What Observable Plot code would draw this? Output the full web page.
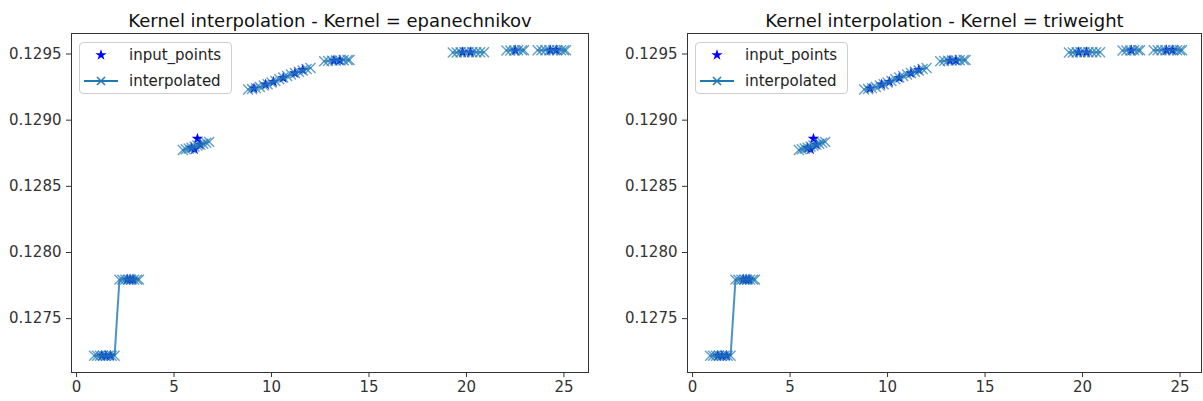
<!DOCTYPE html>
<html><head><meta charset="utf-8">
<script src="https://cdn.jsdelivr.net/npm/d3@7"></script>
<script src="https://cdn.jsdelivr.net/npm/@observablehq/plot@0.6"></script>
<style>
body{margin:0;background:#fff;font-family:"DejaVu Sans",sans-serif;}
#fig{position:relative;width:1203px;height:401px;overflow:hidden;background:#fff;}
.panel{position:absolute;top:0;}
.legend{position:absolute;border:1px solid #cfcfcf;border-radius:4px;background:rgba(255,255,255,0.85);width:151px;height:50px;}
.legend svg{display:block;}
</style></head><body><div id="fig"></div>
<script>
// ---- data ----
const kernels = ["epanechnikov", "triweight"];
const xTicks = [0, 5, 10, 15, 20, 25];
const yTicks = [0.1275, 0.1280, 0.1285, 0.1290, 0.1295];

// interpolated curve (NaN = break in the line)
const interpX = [
  0.9, 1.05, 1.2, 1.35, 1.5, 1.65, 1.8, 1.95,
  2.2, 2.35, 2.5, 2.65, 2.8, 2.95, 3.1, 3.2, NaN,
  5.45, 5.6, 5.75, 5.9, 6.05, 6.2, 6.35, 6.5, 6.65, 6.8, NaN,
  8.8, 9.0, 9.2, 9.4, 9.6, 9.8, 10.0, 10.2, 10.4, 10.6, 10.8, 11.0, 11.2, 11.4, 11.6, 11.8, 12.0, NaN,
  12.7, 12.9, 13.1, 13.3, 13.5, 13.7, 13.9, 14.0, NaN,
  19.3, 19.5, 19.7, 19.9, 20.1, 20.3, 20.5, 20.7, 20.9, NaN,
  22.05, 22.25, 22.45, 22.65, 22.85, 22.95, NaN,
  23.65, 23.85, 24.05, 24.25, 24.45, 24.65, 24.85, 25.0, 25.1
];
const interpY = [
  0.12722, 0.12722, 0.12722, 0.12722, 0.12722, 0.12722, 0.12722, 0.12722,
  0.127795, 0.127795, 0.127795, 0.127795, 0.127795, 0.127795, 0.127795, 0.127795, NaN,
  0.128775, 0.12878, 0.128786, 0.128792, 0.1288, 0.128808, 0.128815, 0.128822, 0.12883, 0.128836, NaN,
  0.129232, 0.129236, 0.129242, 0.12925, 0.129262, 0.129272, 0.129284, 0.129296, 0.12931, 0.129322, 0.129334, 0.129345, 0.129356, 0.129366, 0.129376, 0.129386, 0.129394, NaN,
  0.129446, 0.129448, 0.12945, 0.129451, 0.129452, 0.129453, 0.129454, 0.129455, NaN,
  0.129512, 0.129512, 0.129513, 0.129513, 0.129513, 0.129513, 0.129514, 0.129514, 0.129514, NaN,
  0.129527, 0.129527, 0.129527, 0.129528, 0.129528, 0.129528, NaN,
  0.129528, 0.129528, 0.129528, 0.129528, 0.129529, 0.129529, 0.129529, 0.129529, 0.129529
];

// input points (stars)
const inputX = [1.3, 1.5, 1.75, 2.6, 2.75, 2.9, 5.9, 6.05, 6.2, 6.35, 9.1, 9.7, 10.1, 10.6, 11.2, 11.6, 13.2, 13.5, 19.8, 20.2, 22.5, 24.3, 24.6];
const inputY = [0.12722, 0.12722, 0.12722, 0.127795, 0.127795, 0.127795, 0.12879, 0.12878, 0.12886, 0.128815, 0.12924, 0.12927, 0.12929, 0.12932, 0.129355, 0.12938, 0.12945, 0.129452, 0.129513, 0.129513, 0.129528, 0.129528, 0.129529];

// ---- build ----
const interp = interpX.map((x, i) => ({x, y: interpY[i]}));
const inputs = inputX.map((x, i) => ({x, y: inputY[i]}));
const blue = "#1f77b4";

const panels = [
  {left: 0, width: 600, marginRight: 12, xMax: 26.26},
  {left: 616, width: 587, marginRight: 2, xMax: 26.1}
];

const fig = document.getElementById("fig");

kernels.forEach((kernel, k) => {
  const p = panels[k];
  const chart = Plot.plot({
    width: p.width,
    height: 400,
    marginLeft: 71,
    marginRight: p.marginRight,
    marginTop: 33,
    marginBottom: 28,
    style: {fontFamily: "DejaVu Sans, sans-serif", fontSize: "15px", color: "#333", background: "white", overflow: "visible"},
    x: {domain: [-0.26, p.xMax], ticks: xTicks, tickSize: 5, tickPadding: 4, label: null},
    y: {domain: [0.127093, 0.129655], ticks: yTicks, tickFormat: d3.format(".4f"), tickSize: 5, tickPadding: 5, label: null},
    marks: [
      Plot.frame({stroke: "#333", strokeWidth: 1}),
      Plot.dot(inputs, {x: "x", y: "y", symbol: "star", fill: "blue", r: 3.6}),
      Plot.line(interp, {x: "x", y: "y", stroke: blue, strokeWidth: 2, strokeOpacity: 0.8}),
      Plot.dot(interp, {x: "x", y: "y", symbol: "times", stroke: blue, r: 4.6, strokeWidth: 1.4, strokeOpacity: 0.7}),
      Plot.text([`Kernel interpolation - Kernel = ${kernel}`], {frameAnchor: "top", dy: -7, lineAnchor: "bottom", fontSize: 18, fill: "#111"})
    ]
  });
  chart.classList.add("panel");
  chart.style.left = p.left + "px";
  fig.appendChild(chart);

  // legend
  const lg = document.createElement("div");
  lg.className = "legend";
  lg.style.left = (p.left + 71 + 8) + "px";
  lg.style.top = (33 + 9) + "px";
  const s = d3.create("svg").attr("width", 151).attr("height", 50);
  s.append("path").attr("d", d3.symbol(d3.symbolStar, 40)()).attr("transform", "translate(21,12)").attr("fill", "blue");
  s.append("line").attr("x1", 4).attr("x2", 38).attr("y1", 38).attr("y2", 38).attr("stroke", blue).attr("stroke-width", 2);
  s.append("path").attr("d", "M-4,-4L4,4M-4,4L4,-4").attr("transform", "translate(21,38)").attr("stroke", blue).attr("stroke-width", 1.5);
  s.append("text").attr("x", 49).attr("y", 12).attr("dy", "0.35em").attr("font-size", 15).attr("fill", "#222").text("input_points");
  s.append("text").attr("x", 49).attr("y", 38).attr("dy", "0.35em").attr("font-size", 15).attr("fill", "#222").text("interpolated");
  lg.appendChild(s.node());
  fig.appendChild(lg);
});
</script>
</body></html>
